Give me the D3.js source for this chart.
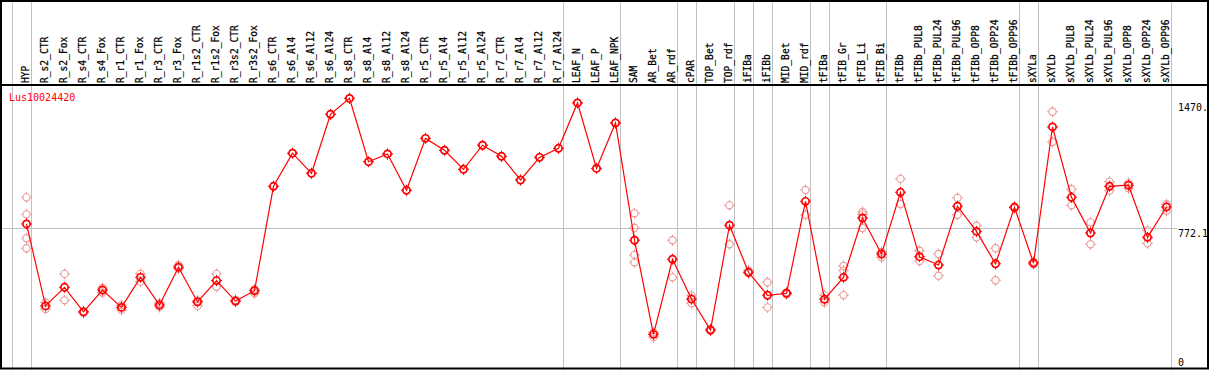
<!DOCTYPE html>
<html>
<head>
<meta charset="utf-8">
<script src="https://cdn.jsdelivr.net/npm/d3@7"></script>
<style>
  body { margin: 0; background: #fff; }
  text { font-family: "DejaVu Sans Mono", "Liberation Mono", monospace; }
</style>
</head>
<body>
<div id="chart"></div>
<script>
var geneName = "Lus10024420"

var samples = ["HYP", "R_s2_CTR", "R_s2_Fox", "R_s4_CTR", "R_s4_Fox", "R_r1_CTR", "R_r1_Fox",
  "R_r3_CTR", "R_r3_Fox", "R_r1s2_CTR", "R_r1s2_Fox", "R_r3s2_CTR", "R_r3s2_Fox",
  "R_s6_CTR", "R_s6_Al4", "R_s6_Al12", "R_s6_Al24", "R_s8_CTR", "R_s8_Al4", "R_s8_Al12", "R_s8_Al24",
  "R_r5_CTR", "R_r5_Al4", "R_r5_Al12", "R_r5_Al24", "R_r7_CTR", "R_r7_Al4", "R_r7_Al12", "R_r7_Al24",
  "LEAF_N", "LEAF_P", "LEAF_NPK", "SAM", "AR_Bet", "AR_rdf", "cPAR", "TOP_Bet", "TOP_rdf",
  "iFIBa", "iFIBb", "MID_Bet", "MID_rdf", "tFIBa", "tFIB_Gr", "tFIB_Li", "tFIB_Bi",
  "tFIBb", "tFIBb_PUL8", "tFIBb_PUL24", "tFIBb_PUL96", "tFIBb_OPP8", "tFIBb_OPP24", "tFIBb_OPP96",
  "sXYLa", "sXYLb", "sXYLb_PUL8", "sXYLb_PUL24", "sXYLb_PUL96", "sXYLb_OPP8", "sXYLb_OPP24", "sXYLb_OPP96"]

// mean expression per sample
var means = [796, 343, 446, 310, 431, 335, 501, 348, 557, 365, 483, 370, 427,
  1004, 1187, 1076, 1402, 1490, 1140, 1183, 982, 1269, 1203, 1098, 1231, 1170, 1039, 1164, 1214,
  1465, 1103, 1354, 706, 186, 601, 381, 210, 789, 529, 402, 413, 921, 380, 501, 829, 630,
  971, 615, 569, 894, 755, 576, 888, 580, 1332, 943, 746, 1004, 1010, 722, 890]

// single replicates
var replicates = [[943, 849, 717, 662], [361, 326], [520, 374], [314, 305], [442, 416],
  [347, 321], [520, 477], [359, 337], [568, 549], [372, 343], [520, 449], [376, 365], [435, 413],
  [1004], [1187], [1076], [1402], [1490], [1140], [1183], [982], [1269], [1203], [1098], [1231],
  [1170], [1039], [1164], [1214], [1465], [1103], [1354],
  [855, 774, 625, 584], [197, 171], [706, 501], [400, 358], [215, 205], [899, 684],
  [538, 523], [474, 335], [418, 407], [984, 846], [403, 363], [564, 538, 403], [862, 849, 774],
  [641, 612], [1045, 906], [648, 591], [630, 510], [940, 847], [786, 722], [662, 485], [893, 883],
  [587, 573], [1416, 1249], [988, 899], [805, 684], [1030, 980], [1022, 993], [761, 689], [905, 869]]

// group separators: drawn after these sample indexes
var separators = [-1, 0, 28, 31, 34, 35, 37, 38, 39, 41, 42, 45, 52, 53, 60]

var tickValues = [0, 772.1, 1470]
var tickLabels = ["0", "772.1", "1470."]

var width = 1209, height = 370
var headerBottom = 85

var svg = d3.select("#chart").append("svg")
  .attr("width", width)
  .attr("height", height)

var xPositionScale = d3.scalePoint().domain(samples).range([26.5, 1166.5])
var step = xPositionScale.step()
var yPositionScale = d3.scaleLinear().domain([0, 1470]).range([368, 102])

var colX = function (i) { return xPositionScale(samples[0]) + i * step }

// gray separators go through the header too
svg.selectAll(".sep")
  .data(separators)
  .enter().append("line")
  .attr("class", "sep")
  .attr("x1", function (d) { return Math.round(colX(d) + 4) + 0.5 })
  .attr("x2", function (d) { return Math.round(colX(d) + 4) + 0.5 })
  .attr("y1", 0)
  .attr("y2", height)
  .attr("stroke", "#c0c0c0")
  .attr("stroke-width", 1)

// reference line at 772.1
svg.append("line")
  .attr("x1", 1)
  .attr("x2", 1177)
  .attr("y1", Math.round(yPositionScale(772.1)) + 0.5)
  .attr("y2", Math.round(yPositionScale(772.1)) + 0.5)
  .attr("stroke", "#c0c0c0")
  .attr("stroke-width", 1)

// frame
svg.append("rect")
  .attr("x", 1).attr("y", 1)
  .attr("width", 1207).attr("height", 367.5)
  .attr("fill", "none")
  .attr("stroke", "#000")
  .attr("stroke-width", 2)

svg.append("line")
  .attr("x1", 0).attr("x2", width)
  .attr("y1", headerBottom).attr("y2", headerBottom)
  .attr("stroke", "#000")
  .attr("stroke-width", 2)

// rotated sample names
svg.selectAll(".sample-label")
  .data(samples)
  .enter().append("text")
  .attr("class", "sample-label")
  .attr("transform", function (d) {
    return "translate(" + (xPositionScale(d) + 2.5) + "," + (headerBottom - 2) + ") rotate(-90)"
  })
  .attr("font-size", "9.6px")
  .attr("fill", "#000")
  .attr("stroke", "#000")
  .attr("stroke-width", 0.25)
  .text(function (d) { return d })

// value labels on the right
svg.selectAll(".tick-label")
  .data(tickValues)
  .enter().append("text")
  .attr("class", "tick-label")
  .attr("x", 1178)
  .attr("y", function (d) {
    if (d === 0) return yPositionScale(d) - 2
    return yPositionScale(d) + 9
  })
  .attr("font-size", "10px")
  .attr("fill", "#000")
  .text(function (d, i) { return tickLabels[i] })

svg.append("text")
  .attr("x", 9)
  .attr("y", 101)
  .attr("font-size", "10px")
  .attr("fill", "#ff0000")
  .text(geneName)

// marker: circle with small ticks
function marker(g, color, sw) {
  g.append("circle")
    .attr("r", 3.6)
    .attr("fill", "none")
    .attr("stroke", color)
    .attr("stroke-width", sw)
  var t = [[0, -3.5, 0, -5.5], [0, 3.5, 0, 5.5], [-3.5, 0, -5.5, 0], [3.5, 0, 5.5, 0]]
  t.forEach(function (p) {
    g.append("line")
      .attr("x1", p[0]).attr("y1", p[1])
      .attr("x2", p[2]).attr("y2", p[3])
      .attr("stroke", color)
      .attr("stroke-width", 1)
  })
}

var repPoints = []
replicates.forEach(function (reps, i) {
  reps.forEach(function (v) { repPoints.push({ sample: samples[i], value: v }) })
})

svg.selectAll(".rep")
  .data(repPoints)
  .enter().append("g")
  .attr("class", "rep")
  .attr("transform", function (d) {
    return "translate(" + xPositionScale(d.sample) + "," + yPositionScale(d.value) + ")"
  })
  .each(function () { marker(d3.select(this), "#eb9a9a", 1.1) })

var line = d3.line()
  .x(function (d, i) { return xPositionScale(samples[i]) })
  .y(function (d) { return yPositionScale(d) })

svg.append("path")
  .datum(means)
  .attr("d", line)
  .attr("fill", "none")
  .attr("stroke", "#ff0000")
  .attr("stroke-width", 1.2)

svg.selectAll(".mean")
  .data(means)
  .enter().append("g")
  .attr("class", "mean")
  .attr("transform", function (d, i) {
    return "translate(" + xPositionScale(samples[i]) + "," + yPositionScale(d) + ")"
  })
  .each(function () { marker(d3.select(this), "#ff0000", 1.7) })
</script>
</body>
</html>
